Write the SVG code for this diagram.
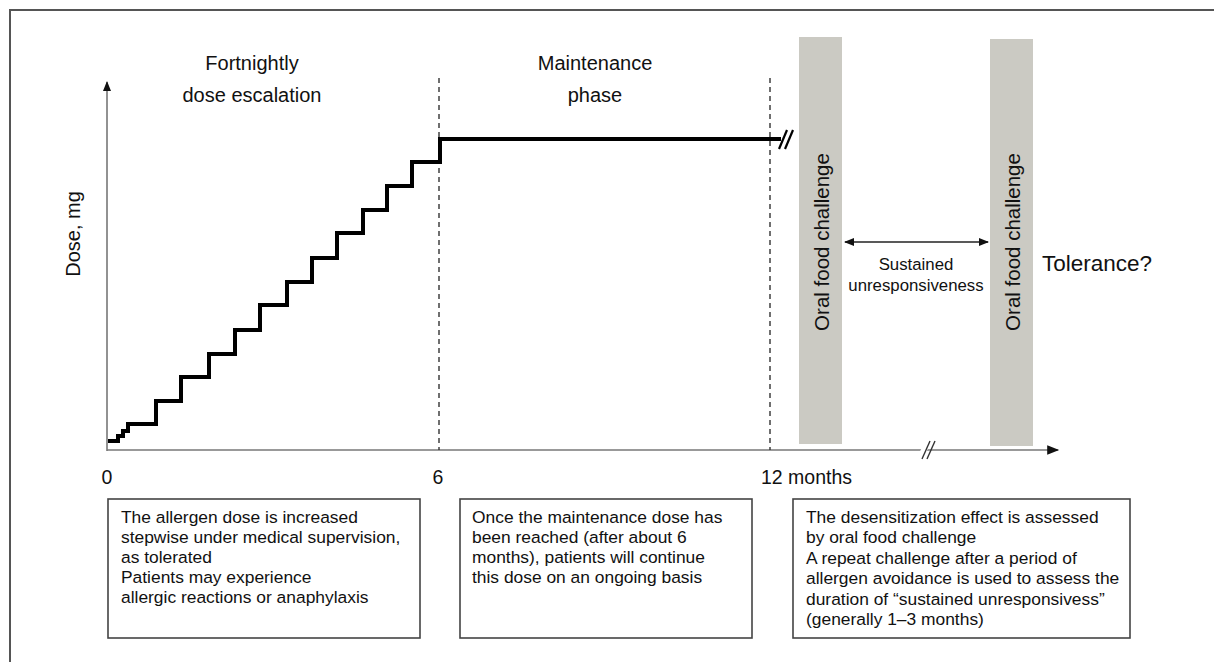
<svg xmlns="http://www.w3.org/2000/svg" width="1214" height="662" viewBox="0 0 1214 662">
<defs>
<marker id="arr" viewBox="0 0 10 10" refX="9" refY="5" markerWidth="10" markerHeight="10" markerUnits="userSpaceOnUse" orient="auto-start-reverse">
<path d="M0,1 L10,5 L0,9 z" fill="#111"/>
</marker>
<marker id="arrL" viewBox="0 0 10 10" refX="9" refY="5" markerWidth="14" markerHeight="12" markerUnits="userSpaceOnUse" orient="auto-start-reverse">
<path d="M0,1 L10,5 L0,9 z" fill="#111"/>
</marker>
</defs>
<style>
text { font-family: "Liberation Sans", Arial, sans-serif; fill: #111; }
.lbl { font-size: 20px; text-anchor: middle; }
.box rect { fill: #fff; stroke: #444; stroke-width: 1.6; }
.box text { font-size: 17.4px; }
.bar rect { fill: #cbcac3; }
.bar text { font-size: 20.5px; text-anchor: middle; }
.tick { font-size: 19.5px; }
.axis { stroke: #777; stroke-width: 1.6; fill: none; }
.dash { stroke: #333; stroke-width: 1.4; stroke-dasharray: 5 4; fill: none; }
.dose { stroke: #000; stroke-width: 4; fill: none; stroke-linejoin: miter; }
.brk { stroke: #333; stroke-width: 1.4; fill: none; }
</style>
<rect width="1214" height="662" fill="#fff"/>
<path d="M10,662 V10 H1214" fill="none" stroke="#555" stroke-width="2"/>

<g id="connectors">
<line class="axis" x1="107" y1="451" x2="107" y2="82" marker-end="url(#arr)"/>
<line class="axis" x1="107" y1="450" x2="1058" y2="450" marker-end="url(#arrL)"/>
<line x1="920" y1="458" x2="928" y2="442" stroke="#fff" stroke-width="6"/>
<line x1="922" y1="459" x2="930" y2="441" class="brk"/>
<line x1="927" y1="459" x2="935" y2="441" class="brk"/>
<line class="dash" x1="439" y1="78" x2="439" y2="450"/>
<line class="dash" x1="770" y1="78" x2="770" y2="450"/>
<path class="dose" d="M108,441 H118 V436 H123 V431 H128 V424 H156 V401 H181 V377 H209 V354 H235 V330 H260 V305 H287 V282 H312 V258 H337 V233 H363 V210 H387 V186 H412 V162 H440 V139 H781"/>
<line x1="779" y1="149" x2="787" y2="130" stroke="#000" stroke-width="2.2"/>
<line x1="785" y1="149" x2="793" y2="130" stroke="#000" stroke-width="2.2"/>
<line x1="845" y1="242" x2="988" y2="242" stroke="#222" stroke-width="1.3" marker-start="url(#arr)" marker-end="url(#arr)"/>
</g>

<g id="label-fortnightly">
<text class="lbl" x="252" y="70">Fortnightly<tspan x="252" dy="32">dose escalation</tspan></text>
</g>
<g id="label-maintenance">
<text class="lbl" x="595" y="70">Maintenance<tspan x="595" dy="32">phase</tspan></text>
</g>
<g id="label-dose">
<text class="lbl" transform="translate(80,234) rotate(-90)">Dose, mg</text>
</g>
<g id="ticks">
<text class="tick" x="107" y="484" text-anchor="middle">0</text>
<text class="tick" x="438" y="484" text-anchor="middle">6</text>
<text class="tick" x="761" y="484">12 months</text>
</g>

<g id="ofc1" class="bar">
<rect x="799" y="37" width="43" height="407"/>
<text transform="translate(829,242) rotate(-90)">Oral food challenge</text>
</g>
<g id="ofc2" class="bar">
<rect x="990" y="39" width="43" height="407"/>
<text transform="translate(1020,242) rotate(-90)">Oral food challenge</text>
</g>
<g id="sustained">
<text x="916" y="270" style="font-size:16.8px" text-anchor="middle">Sustained<tspan x="916" dy="21">unresponsiveness</tspan></text>
</g>
<g id="tolerance">
<text x="1042" y="271" style="font-size:22.5px">Tolerance?</text>
</g>

<g id="box1" class="box">
<rect x="108" y="499" width="312" height="139"/>
<text x="121" y="523">The allergen dose is increased<tspan x="121" dy="20">stepwise under medical supervision,</tspan><tspan x="121" dy="20">as tolerated</tspan><tspan x="121" dy="20">Patients may experience</tspan><tspan x="121" dy="20">allergic reactions or anaphylaxis</tspan></text>
</g>
<g id="box2" class="box">
<rect x="460" y="499" width="292" height="139"/>
<text x="472" y="523">Once the maintenance dose has<tspan x="472" dy="20">been reached (after about 6</tspan><tspan x="472" dy="20">months), patients will continue</tspan><tspan x="472" dy="20">this dose on an ongoing basis</tspan></text>
</g>
<g id="box3" class="box">
<rect x="793" y="499" width="337" height="139"/>
<text x="806" y="523">The desensitization effect is assessed<tspan x="806" dy="20.4">by oral food challenge</tspan><tspan x="806" dy="20.4">A repeat challenge after a period of</tspan><tspan x="806" dy="20.4">allergen avoidance is used to assess the</tspan><tspan x="806" dy="20.4">duration of “sustained unresponsivess”</tspan><tspan x="806" dy="20.4">(generally 1–3 months)</tspan></text>
</g>
</svg>
